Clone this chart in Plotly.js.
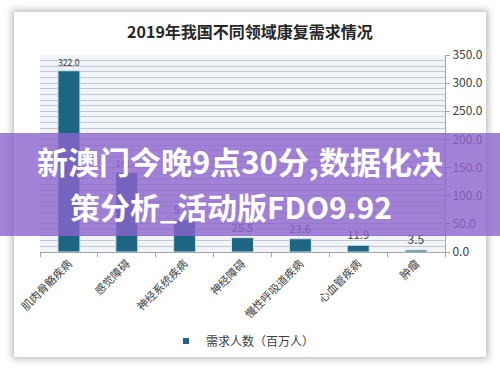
<!DOCTYPE html>
<html>
<head>
<meta charset="utf-8">
<script src="https://cdn.plot.ly/plotly-3.0.1.min.js"></script>
<style>
html,body{margin:0;padding:0;background:#ffffff;width:500px;height:370px;overflow:hidden;}
#card{position:absolute;left:14px;top:12px;width:472px;height:345px;background:#fff;box-shadow:0 0 7px 2px rgba(0,0,0,0.28);}
#chart{position:absolute;left:0;top:0;width:500px;height:370px;}
</style>
</head>
<body>
<div id="card"></div>
<div id="chart"></div>
<script>
const categories = ['肌肉骨骼疾病','感觉障碍','神经系统疾病','神经障碍','慢性呼吸道疾病','心血管疾病','肿瘤'];
const demand = [322.0, 141.4, 57.3, 25.5, 23.6, 11.9, 3.5];
const seriesName = '需求人数（百万人）';
const chartTitle = '2019年我国不同领域康复需求情况';
const bannerLines = ['新澳门今晚9点30分,数据化决', '策分析_活动版FDO9.92'];

const FONT = '"Noto Sans CJK SC", "Noto Sans", sans-serif';

const trace = {
  type: 'bar',
  x: categories,
  y: demand,
  name: seriesName,
  width: 0.38,
  marker: {color: '#1d6683', line: {color: '#d2e4ec', width: 1}},
  text: demand.map(v => v.toFixed(1)),
  textposition: 'outside',
  textfont: {family: FONT, size: 12, color: '#404040'},
  cliponaxis: false,
  showlegend: false
};

const legendTrace = {
  type: 'scatter', mode: 'markers',
  x: [categories[0]], y: [null],
  name: seriesName,
  marker: {symbol: 'square', size: 6, color: '#1d6683'},
  showlegend: true, hoverinfo: 'skip'
};

const layout = {
  width: 500, height: 370,
  margin: {l: 40, r: 55, t: 55, b: 118},
  paper_bgcolor: 'rgba(0,0,0,0)',
  plot_bgcolor: '#f1f4f8',
  font: {family: FONT, color: '#404040'},
  title: {text: chartTitle, x: 0.5, xanchor: 'center', y: 1 - 32/370, yanchor: 'middle',
          font: {family: FONT, size: 16, color: '#262626', weight: 'bold'}},
  xaxis: {
    type: 'category',
    tickangle: -45,
    tickfont: {family: FONT, size: 11, color: '#404040'},
    showline: true, linecolor: '#a6a6a6', linewidth: 1,
    ticks: 'outside', tickson: 'boundaries', ticklen: 4, tickcolor: '#a6a6a6',
    showgrid: false
  },
  yaxis: {
    side: 'right',
    range: [0, 350],
    dtick: 50,
    tickformat: '.1f',
    tickfont: {family: FONT, size: 12, color: '#404040'},
    showline: true, linecolor: '#a6a6a6', linewidth: 1,
    ticks: 'outside', ticklen: 4, tickcolor: '#a6a6a6',
    showgrid: true, gridcolor: '#c3c8cf', gridwidth: 1,
    zeroline: false,
    minor: {dtick: 10, showgrid: true, gridcolor: '#c3c8cf', gridwidth: 1}
  },
  legend: {
    orientation: 'h', x: (243-40)/405, xanchor: 'center', y: (252-341)/197, yanchor: 'middle',
    font: {family: FONT, size: 12, color: '#404040'},
    bgcolor: 'rgba(0,0,0,0)', itemwidth: 30
  },
  shapes: [{
    type: 'rect', xref: 'paper', yref: 'paper', layer: 'above',
    x0: -40/405, x1: 460/405, y0: (252-236)/197, y1: (252-133)/197,
    fillcolor: 'rgba(140,100,205,0.8)', line: {width: 0}
  }],
  annotations: [
    {xref: 'paper', yref: 'paper', x: (240-40)/405, y: (252-160)/197, xanchor: 'center', yanchor: 'middle',
     text: '<b>' + bannerLines[0] + '</b>', showarrow: false,
     font: {family: FONT, size: 31, color: '#ffffff'}},
    {xref: 'paper', yref: 'paper', x: (231-40)/405, y: (252-206)/197, xanchor: 'center', yanchor: 'middle',
     text: '<b>' + bannerLines[1] + '</b>', showarrow: false,
     font: {family: FONT, size: 30, color: '#ffffff'}}
  ]
};

Plotly.newPlot('chart', [trace, legendTrace], layout, {displayModeBar: false, staticPlot: true});
</script>
</body>
</html>
